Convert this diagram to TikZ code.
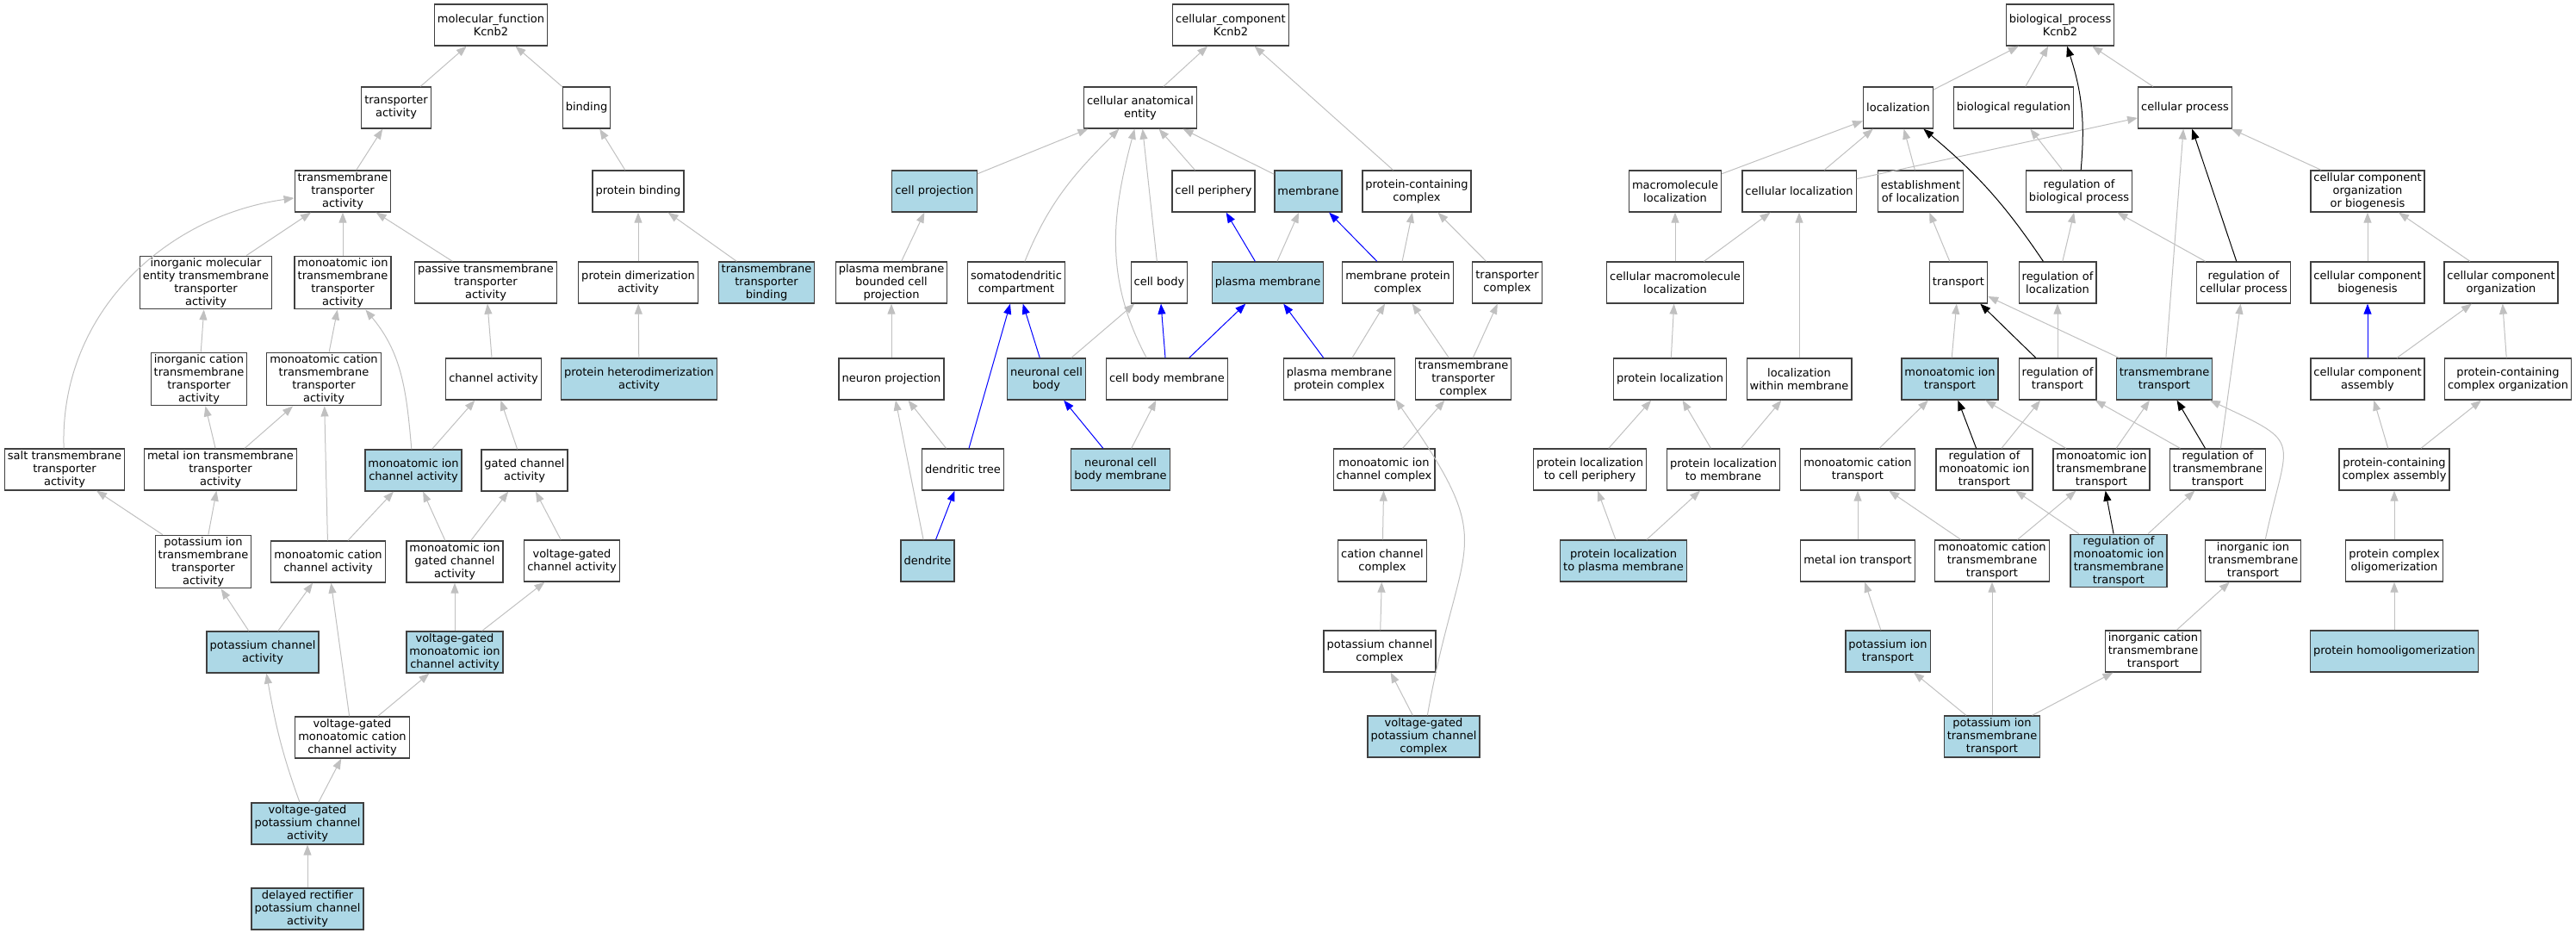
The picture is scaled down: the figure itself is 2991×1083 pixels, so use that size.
\documentclass[tikz,border=0pt]{standalone}
\usepackage{fontspec}
\setmainfont{DejaVu Sans}
\usepackage{tikz}
\usetikzlibrary{arrows.meta}
\definecolor{hitblue}{HTML}{ADD8E6}
\definecolor{edgegray}{HTML}{C0C0C0}

\begin{document}
\begin{tikzpicture}[x=1pt,y=1pt,
  term/.style={draw=black!75,line width=1.3pt,fill=white,align=center,
    minimum height=48pt,inner xsep=3.5pt,inner ysep=2pt,
    font=\fontsize{13}{15}\selectfont},
  hit/.style={term,fill=hitblue},
  isa/.style={draw=edgegray,line width=1pt,-{Triangle[length=12pt,width=9pt]}},
  partof/.style={isa,draw=blue},
  regulates/.style={isa,draw=black}]
\useasboundingbox (0,0) rectangle (2991,-1083);

% molecular function
\node[term] (mf) at (570,-29) {molecular\_function\\Kcnb2};
\node[term] (ta) at (460,-125) {transporter\\activity};
\node[term] (bind) at (681,-125) {binding};
\node[term] (tta) at (398,-222) {transmembrane\\transporter\\activity};
\node[term] (pb) at (741,-222) {protein binding};
\node[term] (imeta) at (239,-328) {inorganic molecular\\entity transmembrane\\transporter\\activity};
\node[term] (mitta) at (398,-328) {monoatomic ion\\transmembrane\\transporter\\activity};
\node[term] (ptta) at (564,-328) {passive transmembrane\\transporter\\activity};
\node[term] (pda) at (741,-328) {protein dimerization\\activity};
\node[hit] (ttb) at (890,-328) {transmembrane\\transporter\\binding};
\node[term] (icta) at (231,-440) {inorganic cation\\transmembrane\\transporter\\activity};
\node[term] (mcta) at (376,-440) {monoatomic cation\\transmembrane\\transporter\\activity};
\node[term] (cha) at (573,-440) {channel activity};
\node[hit] (phda) at (742,-440) {protein heterodimerization\\activity};
\node[term] (stta) at (75,-545) {salt transmembrane\\transporter\\activity};
\node[term] (mitra) at (256,-545) {metal ion transmembrane\\transporter\\activity};
\node[hit] (mica) at (480,-546) {monoatomic ion\\channel activity};
\node[term] (gca) at (609,-546) {gated channel\\activity};
\node[term] (pitta) at (236,-652) {potassium ion\\transmembrane\\transporter\\activity};
\node[term] (mcca) at (381,-652) {monoatomic cation\\channel activity};
\node[term] (migca) at (528,-652) {monoatomic ion\\gated channel\\activity};
\node[term] (vgca) at (664,-651) {voltage-gated\\channel activity};
\node[hit] (pca) at (305,-757) {potassium channel\\activity};
\node[hit] (vgmica) at (528,-757) {voltage-gated\\monoatomic ion\\channel activity};
\node[term] (vgmcca) at (409,-856) {voltage-gated\\monoatomic cation\\channel activity};
\node[hit] (vgpca) at (357,-956) {voltage-gated\\potassium channel\\activity};
\node[hit] (drpca) at (357,-1055) {delayed rectifier\\potassium channel\\activity};

% cellular component
\node[term] (cc) at (1429,-29) {cellular\_component\\Kcnb2};
\node[term] (cae) at (1324,-125) {cellular anatomical\\entity};
\node[hit] (cproj) at (1085,-222) {cell projection};
\node[term] (cper) at (1409,-222) {cell periphery};
\node[hit] (memb) at (1519,-222) {membrane};
\node[term] (pcc) at (1645,-222) {protein-containing\\complex};
\node[term] (pmbcp) at (1035,-328) {plasma membrane\\bounded cell\\projection};
\node[term] (sdc) at (1180,-328) {somatodendritic\\compartment};
\node[term] (cbody) at (1346,-328) {cell body};
\node[hit] (pm) at (1472,-328) {plasma membrane};
\node[term] (mpc) at (1623,-328) {membrane protein\\complex};
\node[term] (tc) at (1750,-328) {transporter\\complex};
\node[term] (np) at (1035,-440) {neuron projection};
\node[hit] (ncb) at (1215,-440) {neuronal cell\\body};
\node[term] (cbm) at (1355,-440) {cell body membrane};
\node[term] (pmpc) at (1555,-440) {plasma membrane\\protein complex};
\node[term] (ttc) at (1699,-440) {transmembrane\\transporter\\complex};
\node[term] (dt) at (1118,-545) {dendritic tree};
\node[hit] (ncbm) at (1301,-545) {neuronal cell\\body membrane};
\node[term] (micc) at (1607,-545) {monoatomic ion\\channel complex};
\node[hit] (dendrite) at (1077,-651) {dendrite};
\node[term] (ccc) at (1605,-651) {cation channel\\complex};
\node[term] (pchc) at (1602,-756) {potassium channel\\complex};
\node[hit] (vgpcc) at (1653,-855) {voltage-gated\\potassium channel\\complex};

% biological process
\node[term] (bp) at (2392,-29) {biological\_process\\Kcnb2};
\node[term] (loc) at (2204,-125) {localization};
\node[term] (breg) at (2338,-125) {biological regulation};
\node[term] (cp) at (2537,-125) {cellular process};
\node[term] (mloc) at (1945,-222) {macromolecule\\localization};
\node[term] (cloc) at (2089,-222) {cellular localization};
\node[term] (eloc) at (2230,-222) {establishment\\of localization};
\node[term] (rbp) at (2414,-222) {regulation of\\biological process};
\node[term] (ccob) at (2749,-222) {cellular component\\organization\\or biogenesis};
\node[term] (cmloc) at (1945,-328) {cellular macromolecule\\localization};
\node[term] (tr) at (2274,-328) {transport};
\node[term] (rloc) at (2389,-328) {regulation of\\localization};
\node[term] (rcp) at (2605,-328) {regulation of\\cellular process};
\node[term] (ccbio) at (2749,-328) {cellular component\\biogenesis};
\node[term] (ccorg) at (2904,-328) {cellular component\\organization};
\node[term] (ploc) at (1939,-440) {protein localization};
\node[term] (lwm) at (2089,-440) {localization\\within membrane};
\node[hit] (mit) at (2264,-440) {monoatomic ion\\transport};
\node[term] (rtr) at (2389,-440) {regulation of\\transport};
\node[hit] (tmt) at (2513,-440) {transmembrane\\transport};
\node[term] (cca) at (2749,-440) {cellular component\\assembly};
\node[term] (pcco) at (2912,-440) {protein-containing\\complex organization};
\node[term] (plcp) at (1846,-545) {protein localization\\to cell periphery};
\node[term] (plm) at (2001,-545) {protein localization\\to membrane};
\node[term] (mct) at (2157,-545) {monoatomic cation\\transport};
\node[term] (rmit) at (2304,-545) {regulation of\\monoatomic ion\\transport};
\node[term] (mitt) at (2440,-545) {monoatomic ion\\transmembrane\\transport};
\node[term] (rtmt) at (2575,-545) {regulation of\\transmembrane\\transport};
\node[term] (pcca) at (2780,-545) {protein-containing\\complex assembly};
\node[hit] (plpm) at (1885,-651) {protein localization\\to plasma membrane};
\node[term] (mitr) at (2157,-651) {metal ion transport};
\node[term] (mctt) at (2313,-651) {monoatomic cation\\transmembrane\\transport};
\node[hit] (rmitt) at (2460,-651) {regulation of\\monoatomic ion\\transmembrane\\transport};
\node[term] (iitt) at (2616,-651) {inorganic ion\\transmembrane\\transport};
\node[term] (pco) at (2780,-651) {protein complex\\oligomerization};
\node[hit] (pit) at (2192,-756) {potassium ion\\transport};
\node[term] (ictt) at (2500,-756) {inorganic cation\\transmembrane\\transport};
\node[hit] (ph) at (2780,-756) {protein homooligomerization};
\node[hit] (pitt) at (2313,-855) {potassium ion\\transmembrane\\transport};

% is_a
\foreach \child/\parent in {ta/mf,bind/mf,tta/ta,pb/bind,imeta/tta,mitta/tta,
  ptta/tta,icta/imeta,mcta/mitta,cha/ptta,pda/pb,ttb/pb,phda/pda,mitra/icta,
  mitra/mcta,mcca/mcta,mica/cha,gca/cha,pitta/stta,pitta/mitra,mcca/mica,
  migca/mica,migca/gca,vgca/gca,pca/pitta,pca/mcca,vgmica/migca,vgmica/vgca,
  vgmcca/mcca,vgmcca/vgmica,vgpca/vgmcca,drpca/vgpca,
  cae/cc,pcc/cc,cproj/cae,cbody/cae,cper/cae,memb/cae,pmbcp/cproj,pm/memb,
  mpc/pcc,tc/pcc,np/pmbcp,ncb/cbody,pmpc/mpc,ttc/mpc,ttc/tc,dt/np,ncbm/cbm,
  micc/ttc,dendrite/np,ccc/micc,pchc/ccc,vgpcc/pchc,
  loc/bp,breg/bp,cp/bp,mloc/loc,cloc/loc,eloc/loc,cloc/cp,rbp/breg,ccob/cp,
  cmloc/mloc,cmloc/cloc,lwm/cloc,tr/eloc,rloc/rbp,rcp/rbp,tmt/cp,ccbio/ccob,
  ccorg/ccob,ploc/cmloc,mit/tr,tmt/tr,rtr/rloc,rtmt/rcp,cca/ccorg,pcco/ccorg,
  plcp/ploc,plm/ploc,plm/lwm,mct/mit,mitt/mit,rmit/rtr,mitt/tmt,rtmt/rtr,
  pcca/cca,pcca/pcco,plpm/plcp,plpm/plm,mitr/mct,mctt/mct,mctt/mitt,
  rmitt/rmit,rmitt/rtmt,pco/pcca,pit/mitr,ictt/iitt,ph/pco,pitt/pit,
  pitt/mctt,pitt/ictt}
  \draw[isa] (\child) -- (\parent);
\draw[isa] (stta) to[out=92,in=188] (tta);
\draw[isa] (mica) to[out=95,in=-50] (mitta);
\draw[isa] (vgpca) to[out=110,in=-80] (pca);
\draw[isa] (sdc) to[out=68,in=-135] (cae);
\draw[isa] (cbm.134) to[out=118,in=-105] (cae);
\draw[isa] (vgpcc) to[out=80,in=-55,looseness=1.5] (pmpc.-20);
\draw[isa] (iitt.60) to[out=78,in=-25,looseness=1.8] (tmt);

% part_of
\foreach \child/\parent in {pm/cper,mpc/memb,ncb/sdc,cbm/cbody,cbm/pm,
  pmpc/pm,dt/sdc,ncbm/ncb,dendrite/dt,cca/ccbio}
  \draw[partof] (\child) -- (\parent);

% regulates
\foreach \child/\parent in {rcp/cp,rtr/tr,rmit/mit,rtmt/tmt,rmitt/mitt}
  \draw[regulates] (\child) -- (\parent);
\draw[regulates] (rbp) to[out=85,in=-72] (bp);
\draw[regulates] (rloc) to[out=124,in=-40] (loc);
\end{tikzpicture}
\end{document}
